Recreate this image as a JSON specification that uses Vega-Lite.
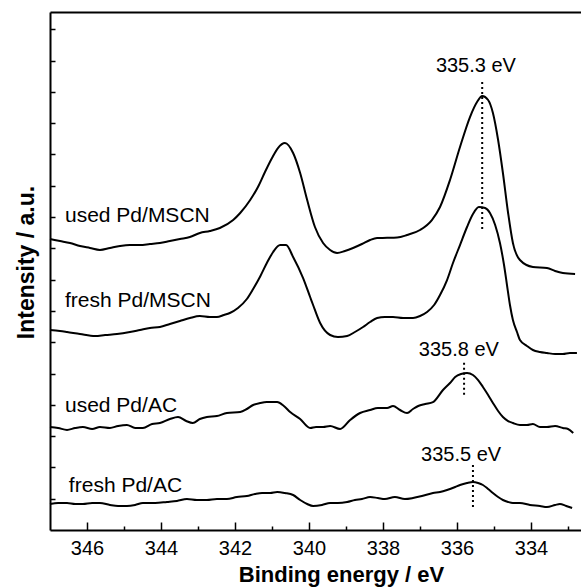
{
  "$schema": "https://vega.github.io/schema/vega-lite/v6.json",
  "width": 531,
  "height": 518,
  "autosize": {"type": "none"},
  "padding": {"left": 50, "top": 12, "right": 0, "bottom": 57},
  "background": "white",
  "config": {
    "view": {"stroke": null},
    "axis": {"grid": false, "domainColor": "black", "tickColor": "black", "labelColor": "black", "titleColor": "black", "labelFont": "Liberation Sans", "titleFont": "Liberation Sans"},
    "text": {"font": "Liberation Sans", "color": "black"}
  },
  "datasets": {
    "curves": [
      {"s":"used Pd/MSCN","e":347.00,"i":9.297},{"s":"used Pd/MSCN","e":346.73,"i":9.233},{"s":"used Pd/MSCN","e":346.46,"i":9.169},{"s":"used Pd/MSCN","e":346.19,"i":9.073},{"s":"used Pd/MSCN","e":345.92,"i":9.010},{"s":"used Pd/MSCN","e":345.65,"i":8.946},{"s":"used Pd/MSCN","e":345.38,"i":9.010},{"s":"used Pd/MSCN","e":345.11,"i":9.073},{"s":"used Pd/MSCN","e":344.84,"i":9.105},{"s":"used Pd/MSCN","e":344.57,"i":9.105},{"s":"used Pd/MSCN","e":344.30,"i":9.137},{"s":"used Pd/MSCN","e":344.03,"i":9.169},{"s":"used Pd/MSCN","e":343.76,"i":9.233},{"s":"used Pd/MSCN","e":343.49,"i":9.297},{"s":"used Pd/MSCN","e":343.22,"i":9.361},{"s":"used Pd/MSCN","e":342.95,"i":9.489},{"s":"used Pd/MSCN","e":342.68,"i":9.553},{"s":"used Pd/MSCN","e":342.41,"i":9.649},{"s":"used Pd/MSCN","e":342.05,"i":9.904},{"s":"used Pd/MSCN","e":341.86,"i":10.128},{"s":"used Pd/MSCN","e":341.59,"i":10.543},{"s":"used Pd/MSCN","e":341.38,"i":10.958},{"s":"used Pd/MSCN","e":341.19,"i":11.438},{"s":"used Pd/MSCN","e":341.00,"i":11.885},{"s":"used Pd/MSCN","e":340.84,"i":12.204},{"s":"used Pd/MSCN","e":340.65,"i":12.364},{"s":"used Pd/MSCN","e":340.43,"i":12.045},{"s":"used Pd/MSCN","e":340.24,"i":11.406},{"s":"used Pd/MSCN","e":340.05,"i":10.543},{"s":"used Pd/MSCN","e":339.84,"i":9.681},{"s":"used Pd/MSCN","e":339.62,"i":9.169},{"s":"used Pd/MSCN","e":339.43,"i":8.946},{"s":"used Pd/MSCN","e":339.24,"i":8.850},{"s":"used Pd/MSCN","e":339.03,"i":8.914},{"s":"used Pd/MSCN","e":338.81,"i":9.010},{"s":"used Pd/MSCN","e":338.57,"i":9.137},{"s":"used Pd/MSCN","e":338.35,"i":9.265},{"s":"used Pd/MSCN","e":338.16,"i":9.330},{"s":"used Pd/MSCN","e":337.89,"i":9.335},{"s":"used Pd/MSCN","e":337.62,"i":9.345},{"s":"used Pd/MSCN","e":337.35,"i":9.425},{"s":"used Pd/MSCN","e":337.00,"i":9.585},{"s":"used Pd/MSCN","e":336.68,"i":9.904},{"s":"used Pd/MSCN","e":336.46,"i":10.319},{"s":"used Pd/MSCN","e":336.19,"i":11.182},{"s":"used Pd/MSCN","e":335.92,"i":12.236},{"s":"used Pd/MSCN","e":335.65,"i":13.195},{"s":"used Pd/MSCN","e":335.46,"i":13.674},{"s":"used Pd/MSCN","e":335.32,"i":13.866},{"s":"used Pd/MSCN","e":335.16,"i":13.738},{"s":"used Pd/MSCN","e":335.03,"i":13.323},{"s":"used Pd/MSCN","e":334.89,"i":12.460},{"s":"used Pd/MSCN","e":334.76,"i":11.406},{"s":"used Pd/MSCN","e":334.62,"i":10.128},{"s":"used Pd/MSCN","e":334.49,"i":9.169},{"s":"used Pd/MSCN","e":334.30,"i":8.626},{"s":"used Pd/MSCN","e":333.95,"i":8.403},{"s":"used Pd/MSCN","e":333.57,"i":8.371},{"s":"used Pd/MSCN","e":333.35,"i":8.275},{"s":"used Pd/MSCN","e":333.14,"i":8.211},{"s":"used Pd/MSCN","e":332.81,"i":8.179},
      {"s":"fresh Pd/MSCN","e":347.00,"i":6.390},{"s":"fresh Pd/MSCN","e":346.73,"i":6.358},{"s":"fresh Pd/MSCN","e":346.54,"i":6.326},{"s":"fresh Pd/MSCN","e":346.19,"i":6.262},{"s":"fresh Pd/MSCN","e":345.78,"i":6.198},{"s":"fresh Pd/MSCN","e":345.51,"i":6.230},{"s":"fresh Pd/MSCN","e":345.19,"i":6.262},{"s":"fresh Pd/MSCN","e":344.84,"i":6.326},{"s":"fresh Pd/MSCN","e":344.57,"i":6.390},{"s":"fresh Pd/MSCN","e":344.30,"i":6.454},{"s":"fresh Pd/MSCN","e":344.03,"i":6.486},{"s":"fresh Pd/MSCN","e":343.76,"i":6.581},{"s":"fresh Pd/MSCN","e":343.49,"i":6.677},{"s":"fresh Pd/MSCN","e":343.22,"i":6.773},{"s":"fresh Pd/MSCN","e":342.95,"i":6.837},{"s":"fresh Pd/MSCN","e":342.68,"i":6.805},{"s":"fresh Pd/MSCN","e":342.49,"i":6.805},{"s":"fresh Pd/MSCN","e":342.30,"i":6.869},{"s":"fresh Pd/MSCN","e":342.14,"i":6.933},{"s":"fresh Pd/MSCN","e":341.92,"i":7.093},{"s":"fresh Pd/MSCN","e":341.68,"i":7.380},{"s":"fresh Pd/MSCN","e":341.51,"i":7.700},{"s":"fresh Pd/MSCN","e":341.32,"i":8.100},{"s":"fresh Pd/MSCN","e":341.14,"i":8.530},{"s":"fresh Pd/MSCN","e":340.97,"i":8.882},{"s":"fresh Pd/MSCN","e":340.78,"i":9.105},{"s":"fresh Pd/MSCN","e":340.62,"i":9.105},{"s":"fresh Pd/MSCN","e":340.43,"i":8.722},{"s":"fresh Pd/MSCN","e":340.16,"i":8.051},{"s":"fresh Pd/MSCN","e":339.97,"i":7.444},{"s":"fresh Pd/MSCN","e":339.89,"i":7.188},{"s":"fresh Pd/MSCN","e":339.70,"i":6.613},{"s":"fresh Pd/MSCN","e":339.43,"i":6.230},{"s":"fresh Pd/MSCN","e":339.22,"i":6.166},{"s":"fresh Pd/MSCN","e":338.97,"i":6.198},{"s":"fresh Pd/MSCN","e":338.76,"i":6.326},{"s":"fresh Pd/MSCN","e":338.54,"i":6.486},{"s":"fresh Pd/MSCN","e":338.35,"i":6.645},{"s":"fresh Pd/MSCN","e":338.16,"i":6.773},{"s":"fresh Pd/MSCN","e":337.95,"i":6.805},{"s":"fresh Pd/MSCN","e":337.73,"i":6.805},{"s":"fresh Pd/MSCN","e":337.46,"i":6.773},{"s":"fresh Pd/MSCN","e":337.19,"i":6.773},{"s":"fresh Pd/MSCN","e":337.00,"i":6.837},{"s":"fresh Pd/MSCN","e":336.81,"i":6.965},{"s":"fresh Pd/MSCN","e":336.62,"i":7.188},{"s":"fresh Pd/MSCN","e":336.46,"i":7.508},{"s":"fresh Pd/MSCN","e":336.27,"i":7.987},{"s":"fresh Pd/MSCN","e":336.11,"i":8.530},{"s":"fresh Pd/MSCN","e":335.92,"i":9.105},{"s":"fresh Pd/MSCN","e":335.73,"i":9.681},{"s":"fresh Pd/MSCN","e":335.57,"i":10.096},{"s":"fresh Pd/MSCN","e":335.41,"i":10.319},{"s":"fresh Pd/MSCN","e":335.24,"i":10.288},{"s":"fresh Pd/MSCN","e":335.11,"i":10.128},{"s":"fresh Pd/MSCN","e":334.97,"i":9.744},{"s":"fresh Pd/MSCN","e":334.84,"i":9.169},{"s":"fresh Pd/MSCN","e":334.73,"i":8.466},{"s":"fresh Pd/MSCN","e":334.65,"i":7.827},{"s":"fresh Pd/MSCN","e":334.57,"i":7.188},{"s":"fresh Pd/MSCN","e":334.49,"i":6.709},{"s":"fresh Pd/MSCN","e":334.38,"i":6.326},{"s":"fresh Pd/MSCN","e":334.30,"i":6.070},{"s":"fresh Pd/MSCN","e":334.11,"i":5.879},{"s":"fresh Pd/MSCN","e":333.95,"i":5.751},{"s":"fresh Pd/MSCN","e":333.76,"i":5.687},{"s":"fresh Pd/MSCN","e":333.57,"i":5.655},{"s":"fresh Pd/MSCN","e":333.35,"i":5.623},{"s":"fresh Pd/MSCN","e":333.14,"i":5.623},{"s":"fresh Pd/MSCN","e":332.95,"i":5.655},{"s":"fresh Pd/MSCN","e":332.76,"i":5.655},
      {"s":"used Pd/AC","e":347.00,"i":3.291},{"s":"used Pd/AC","e":346.78,"i":3.259},{"s":"used Pd/AC","e":346.54,"i":3.195},{"s":"used Pd/AC","e":346.32,"i":3.259},{"s":"used Pd/AC","e":346.11,"i":3.291},{"s":"used Pd/AC","e":345.86,"i":3.227},{"s":"used Pd/AC","e":345.65,"i":3.291},{"s":"used Pd/AC","e":345.38,"i":3.259},{"s":"used Pd/AC","e":345.16,"i":3.323},{"s":"used Pd/AC","e":344.92,"i":3.355},{"s":"used Pd/AC","e":344.70,"i":3.259},{"s":"used Pd/AC","e":344.49,"i":3.259},{"s":"used Pd/AC","e":344.24,"i":3.387},{"s":"used Pd/AC","e":344.03,"i":3.419},{"s":"used Pd/AC","e":343.76,"i":3.546},{"s":"used Pd/AC","e":343.54,"i":3.610},{"s":"used Pd/AC","e":343.32,"i":3.482},{"s":"used Pd/AC","e":343.14,"i":3.419},{"s":"used Pd/AC","e":342.95,"i":3.546},{"s":"used Pd/AC","e":342.76,"i":3.610},{"s":"used Pd/AC","e":342.49,"i":3.642},{"s":"used Pd/AC","e":342.22,"i":3.738},{"s":"used Pd/AC","e":341.86,"i":3.770},{"s":"used Pd/AC","e":341.68,"i":3.866},{"s":"used Pd/AC","e":341.51,"i":3.994},{"s":"used Pd/AC","e":341.32,"i":4.058},{"s":"used Pd/AC","e":341.14,"i":4.089},{"s":"used Pd/AC","e":340.86,"i":4.089},{"s":"used Pd/AC","e":340.68,"i":3.962},{"s":"used Pd/AC","e":340.51,"i":3.770},{"s":"used Pd/AC","e":340.24,"i":3.546},{"s":"used Pd/AC","e":339.97,"i":3.259},{"s":"used Pd/AC","e":339.81,"i":3.291},{"s":"used Pd/AC","e":339.62,"i":3.291},{"s":"used Pd/AC","e":339.43,"i":3.323},{"s":"used Pd/AC","e":339.16,"i":3.227},{"s":"used Pd/AC","e":338.89,"i":3.514},{"s":"used Pd/AC","e":338.62,"i":3.738},{"s":"used Pd/AC","e":338.35,"i":3.834},{"s":"used Pd/AC","e":338.14,"i":3.898},{"s":"used Pd/AC","e":337.89,"i":3.898},{"s":"used Pd/AC","e":337.73,"i":3.962},{"s":"used Pd/AC","e":337.54,"i":3.834},{"s":"used Pd/AC","e":337.35,"i":3.738},{"s":"used Pd/AC","e":337.19,"i":3.866},{"s":"used Pd/AC","e":337.05,"i":3.962},{"s":"used Pd/AC","e":336.86,"i":4.026},{"s":"used Pd/AC","e":336.65,"i":4.089},{"s":"used Pd/AC","e":336.38,"i":4.473},{"s":"used Pd/AC","e":336.19,"i":4.696},{"s":"used Pd/AC","e":336.05,"i":4.888},{"s":"used Pd/AC","e":335.89,"i":4.984},{"s":"used Pd/AC","e":335.73,"i":5.016},{"s":"used Pd/AC","e":335.57,"i":4.952},{"s":"used Pd/AC","e":335.43,"i":4.792},{"s":"used Pd/AC","e":335.30,"i":4.569},{"s":"used Pd/AC","e":335.16,"i":4.313},{"s":"used Pd/AC","e":335.03,"i":4.058},{"s":"used Pd/AC","e":334.89,"i":3.802},{"s":"used Pd/AC","e":334.76,"i":3.610},{"s":"used Pd/AC","e":334.62,"i":3.482},{"s":"used Pd/AC","e":334.49,"i":3.419},{"s":"used Pd/AC","e":334.30,"i":3.355},{"s":"used Pd/AC","e":334.11,"i":3.355},{"s":"used Pd/AC","e":333.95,"i":3.387},{"s":"used Pd/AC","e":333.76,"i":3.291},{"s":"used Pd/AC","e":333.57,"i":3.291},{"s":"used Pd/AC","e":333.35,"i":3.323},{"s":"used Pd/AC","e":333.14,"i":3.259},{"s":"used Pd/AC","e":333.00,"i":3.227},{"s":"used Pd/AC","e":332.86,"i":3.099},
      {"s":"fresh Pd/AC","e":347.00,"i":0.831},{"s":"fresh Pd/AC","e":346.78,"i":0.863},{"s":"fresh Pd/AC","e":346.54,"i":0.863},{"s":"fresh Pd/AC","e":346.32,"i":0.831},{"s":"fresh Pd/AC","e":346.11,"i":0.831},{"s":"fresh Pd/AC","e":345.86,"i":0.863},{"s":"fresh Pd/AC","e":345.65,"i":0.863},{"s":"fresh Pd/AC","e":345.38,"i":0.799},{"s":"fresh Pd/AC","e":345.16,"i":0.767},{"s":"fresh Pd/AC","e":344.92,"i":0.767},{"s":"fresh Pd/AC","e":344.70,"i":0.799},{"s":"fresh Pd/AC","e":344.49,"i":0.863},{"s":"fresh Pd/AC","e":344.16,"i":0.863},{"s":"fresh Pd/AC","e":343.84,"i":0.895},{"s":"fresh Pd/AC","e":343.57,"i":0.927},{"s":"fresh Pd/AC","e":343.30,"i":0.990},{"s":"fresh Pd/AC","e":343.03,"i":0.958},{"s":"fresh Pd/AC","e":342.76,"i":0.958},{"s":"fresh Pd/AC","e":342.49,"i":0.990},{"s":"fresh Pd/AC","e":342.22,"i":0.990},{"s":"fresh Pd/AC","e":341.95,"i":1.054},{"s":"fresh Pd/AC","e":341.68,"i":1.086},{"s":"fresh Pd/AC","e":341.46,"i":1.150},{"s":"fresh Pd/AC","e":341.27,"i":1.182},{"s":"fresh Pd/AC","e":341.05,"i":1.182},{"s":"fresh Pd/AC","e":340.86,"i":1.214},{"s":"fresh Pd/AC","e":340.65,"i":1.182},{"s":"fresh Pd/AC","e":340.43,"i":1.118},{"s":"fresh Pd/AC","e":340.24,"i":0.958},{"s":"fresh Pd/AC","e":340.05,"i":0.831},{"s":"fresh Pd/AC","e":339.89,"i":0.767},{"s":"fresh Pd/AC","e":339.65,"i":0.799},{"s":"fresh Pd/AC","e":339.43,"i":0.863},{"s":"fresh Pd/AC","e":339.22,"i":0.863},{"s":"fresh Pd/AC","e":338.97,"i":0.895},{"s":"fresh Pd/AC","e":338.76,"i":0.958},{"s":"fresh Pd/AC","e":338.57,"i":0.990},{"s":"fresh Pd/AC","e":338.35,"i":1.054},{"s":"fresh Pd/AC","e":338.14,"i":1.022},{"s":"fresh Pd/AC","e":337.95,"i":0.990},{"s":"fresh Pd/AC","e":337.68,"i":1.054},{"s":"fresh Pd/AC","e":337.41,"i":0.990},{"s":"fresh Pd/AC","e":337.19,"i":1.022},{"s":"fresh Pd/AC","e":336.95,"i":1.086},{"s":"fresh Pd/AC","e":336.65,"i":1.182},{"s":"fresh Pd/AC","e":336.46,"i":1.214},{"s":"fresh Pd/AC","e":336.27,"i":1.278},{"s":"fresh Pd/AC","e":336.05,"i":1.374},{"s":"fresh Pd/AC","e":335.92,"i":1.438},{"s":"fresh Pd/AC","e":335.73,"i":1.502},{"s":"fresh Pd/AC","e":335.57,"i":1.534},{"s":"fresh Pd/AC","e":335.43,"i":1.502},{"s":"fresh Pd/AC","e":335.30,"i":1.438},{"s":"fresh Pd/AC","e":335.16,"i":1.310},{"s":"fresh Pd/AC","e":335.03,"i":1.182},{"s":"fresh Pd/AC","e":334.89,"i":1.054},{"s":"fresh Pd/AC","e":334.76,"i":0.958},{"s":"fresh Pd/AC","e":334.62,"i":0.895},{"s":"fresh Pd/AC","e":334.49,"i":0.863},{"s":"fresh Pd/AC","e":334.30,"i":0.863},{"s":"fresh Pd/AC","e":334.03,"i":0.799},{"s":"fresh Pd/AC","e":333.76,"i":0.767},{"s":"fresh Pd/AC","e":333.57,"i":0.735},{"s":"fresh Pd/AC","e":333.35,"i":0.799},{"s":"fresh Pd/AC","e":333.22,"i":0.831},{"s":"fresh Pd/AC","e":333.05,"i":0.767},{"s":"fresh Pd/AC","e":332.89,"i":0.703}
    ],
    "peaks": [
      {"e": 335.32, "top": 14.31, "bottom": 9.52},
      {"e": 335.81, "top": 5.34, "bottom": 4.25},
      {"e": 335.57, "top": 2.08, "bottom": 0.73}
    ],
    "labels": [
      {"e": 346.595, "i": 9.84, "t": "used Pd/MSCN"},
      {"e": 346.595, "i": 7.12, "t": "fresh Pd/MSCN"},
      {"e": 346.595, "i": 3.77, "t": "used Pd/AC"},
      {"e": 346.49, "i": 1.21, "t": "fresh Pd/AC"}
    ],
    "evlabels": [
      {"e": 335.49, "i": 14.63, "t": "335.3 eV"},
      {"e": 335.95, "i": 5.56, "t": "335.8 eV"},
      {"e": 335.89, "i": 2.20, "t": "335.5 eV"}
    ]
  },
  "resolve": {"axis": {"x": "independent", "y": "independent"}},
  "layer": [
    {
      "data": {"name": "curves"},
      "mark": {"type": "line", "color": "black", "strokeWidth": 2, "interpolate": "monotone", "strokeJoin": "round"},
      "encoding": {
        "x": {"field": "e", "type": "quantitative", "scale": {"domain": [332.65, 347], "reverse": true, "nice": false, "zero": false},
          "axis": {"orient": "bottom", "values": [334, 336, 338, 340, 342, 344, 346], "tickSize": -8, "tickWidth": 1.5, "domainWidth": 2, "labelFontSize": 20, "labelPadding": 16, "title": "Binding energy / eV", "titleFontSize": 22, "titleFontWeight": "bold", "titleX": 291, "titleY": 51, "titleBaseline": "alphabetic", "labelFlush": false}},
        "y": {"field": "i", "type": "quantitative", "scale": {"domain": [0, 16.55], "nice": false, "zero": false},
          "axis": {"values": [1,2,3,4,5,6,7,8,9,10,11,12,13,14,15,16], "labels": false, "tickSize": -5, "tickWidth": 1.5, "domainWidth": 2, "title": "Intensity / a.u.", "titleFontSize": 23, "titleFontWeight": "bold", "titleX": -17, "titleY": 250, "titleBaseline": "alphabetic", "titleAngle": -90}},
        "detail": {"field": "s"}
      }
    },
    {
      "data": {"name": "peaks"},
      "mark": {"type": "rule", "color": "black", "strokeWidth": 2, "strokeDash": [2, 3]},
      "encoding": {
        "x": {"field": "e", "type": "quantitative", "axis": {"orient": "top", "ticks": false, "labels": false, "domainWidth": 2, "title": null}},
        "y": {"field": "top", "type": "quantitative", "axis": null},
        "y2": {"field": "bottom"}
      }
    },
    {
      "data": {"name": "labels"},
      "mark": {"type": "text", "align": "left", "baseline": "alphabetic", "fontSize": 21},
      "encoding": {
        "x": {"field": "e", "type": "quantitative", "axis": {"orient": "bottom", "values": [333, 335, 337, 339, 341, 343, 345], "labels": false, "domain": false, "tickSize": -4, "tickWidth": 1.5, "title": null}},
        "y": {"field": "i", "type": "quantitative", "axis": null},
        "text": {"field": "t"}
      }
    },
    {
      "data": {"name": "evlabels"},
      "mark": {"type": "text", "align": "center", "baseline": "alphabetic", "fontSize": 20},
      "encoding": {
        "x": {"field": "e", "type": "quantitative", "axis": null},
        "y": {"field": "i", "type": "quantitative", "axis": null},
        "text": {"field": "t"}
      }
    }
  ]
}
